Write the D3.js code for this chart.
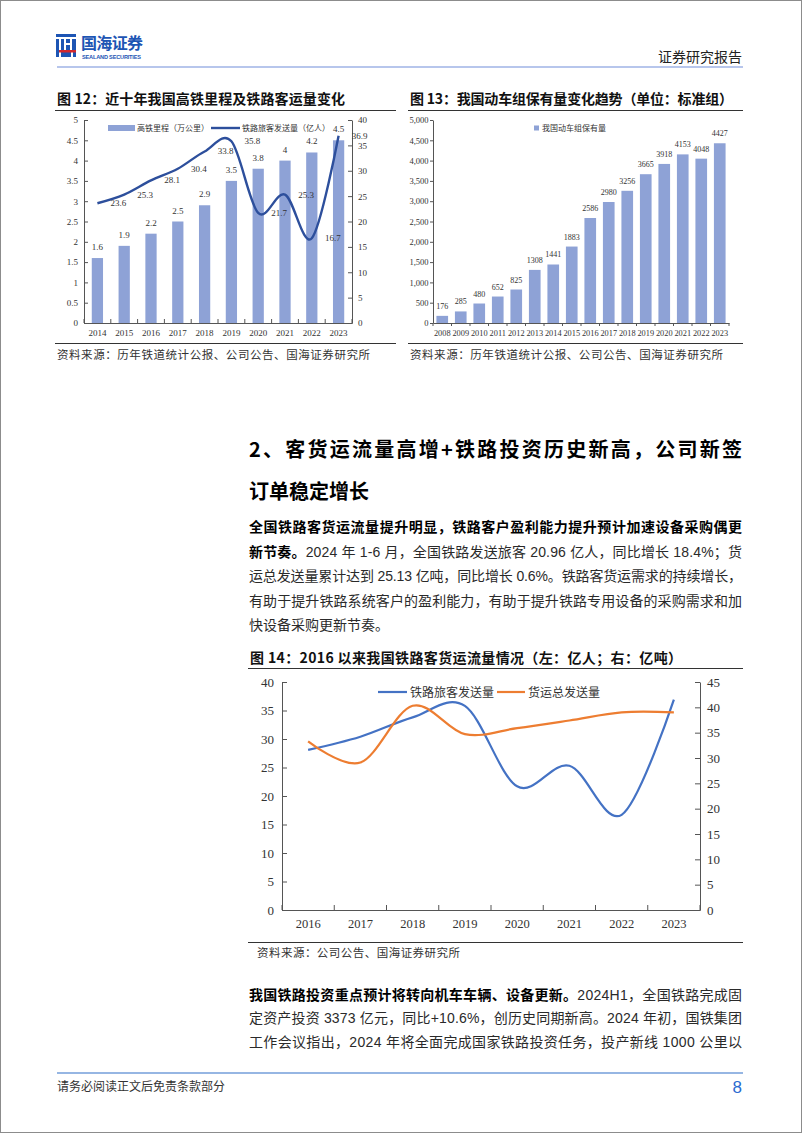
<!DOCTYPE html>
<html><head><meta charset="utf-8">
<script src="https://cdn.jsdelivr.net/npm/d3@7"></script>
<style>body{margin:0;background:#fff;}svg{display:block}</style>
</head><body>
<svg id="page" width="802" height="1133"></svg>
<script>
// ---------- DATA ----------
const years12 = ["2014","2015","2016","2017","2018","2019","2020","2021","2022","2023"];
const hsrMileage = [1.6,1.9,2.2,2.5,2.9,3.5,3.8,4,4.2,4.5];
const passengers12 = [23.6,25.3,28.1,30.4,33.8,35.8,21.7,25.3,16.7,36.9];
const ticks12Left = [0,0.5,1,1.5,2,2.5,3,3.5,4,4.5,5];
const ticks12Right = [0,5,10,15,20,25,30,35,40];

const years13 = ["2008","2009","2010","2011","2012","2013","2014","2015","2016","2017","2018","2019","2020","2021","2022","2023"];
const emuStock = [176,285,480,652,825,1308,1441,1883,2586,2980,3256,3665,3918,4153,4048,4427];
const ticks13 = [0,500,1000,1500,2000,2500,3000,3500,4000,4500,5000];

const years14 = ["2016","2017","2018","2019","2020","2021","2022","2023"];
const passengers14 = [28.1,30.4,33.8,35.8,21.7,25.3,16.7,36.9];
const freight14 = [33.3,29.1,40.3,34.7,35.9,37.4,39.0,39.0];
const ticks14Left = [0,5,10,15,20,25,30,35,40];
const ticks14Right = [0,5,10,15,20,25,30,35,40,45];

// ---------- STYLE ----------
const CJK = "'Noto Sans CJK SC', sans-serif";
const SANS = "'Liberation Sans', 'Noto Sans CJK SC', sans-serif";
const SERIF = "'Liberation Serif', 'Noto Sans CJK SC', serif";
const barColor = "#8ea2d6";
const navy = "#2d4f9c";
const axisColor = "#555";

const svg = d3.select("#page");
svg.append("rect").attr("x",0.5).attr("y",0.5).attr("width",801).attr("height",1132)
  .attr("fill","#fff").attr("stroke","#8c8c8c");

function txt(x,y,s,o={}){
  const t = svg.append("text").attr("x",x).attr("y",y)
    .attr("font-family",o.family||CJK).attr("font-size",o.size||12)
    .attr("font-weight",o.weight||400).attr("fill",o.fill||"#222")
    .attr("text-anchor",o.anchor||"start").text(s);
  if(o.len){t.attr("textLength",o.len).attr("lengthAdjust","spacing");}
  return t;
}
function richLine(x,y,parts,o={}){
  const t = svg.append("text").attr("x",x).attr("y",y)
    .attr("font-family",SANS).attr("font-size",o.size||14).attr("fill","#222");
  parts.forEach(p=>{
    t.append("tspan").attr("font-weight",p.b?700:400).attr("fill",p.b?"#000":"#2a2a2a")
     .attr("font-family",p.b?CJK:SANS).text(p.t);
  });
  if(o.len){t.attr("textLength",o.len).attr("lengthAdjust","spacing");}
  return t;
}
function hline(x0,x1,y,c,w){svg.append("line").attr("x1",x0).attr("x2",x1).attr("y1",y).attr("y2",y).attr("stroke",c).attr("stroke-width",w);}
function styleAxis(g,size,family){
  g.select(".domain").attr("stroke",axisColor);
  g.selectAll(".tick line").attr("stroke",axisColor);
  g.selectAll("text").attr("font-size",size).attr("font-family",family).attr("fill","#333");
}
function boundaryTicks(scale,y,len){
  const [a] = scale.range(); const st = scale.step();
  const n = scale.domain().length;
  svg.append("g").selectAll("line").data(d3.range(n+1)).join("line")
    .attr("x1",i=>a+i*st).attr("x2",i=>a+i*st).attr("y1",y).attr("y2",y+len)
    .attr("stroke",axisColor);
}

// ---------- HEADER ----------
const logo = svg.append("g");
const lb="#1d55b4", lr="#d3282e";
[[56,34,20,3],[56,39,3,18],[61,39,3,11],[66,39,4,4],[66,45,4,5],[72,39,4,11],[73,52,3,5],[61,52,10,5]].forEach(r=>{
  logo.append("rect").attr("x",r[0]).attr("y",r[1]).attr("width",r[2]).attr("height",r[3]).attr("fill",lb);});
logo.append("rect").attr("x",59).attr("y",50).attr("width",17).attr("height",2.5).attr("fill",lr);
txt(81,48.5,"国海证券",{size:16,weight:700,fill:lb,len:62});
txt(82,58.5,"SEALAND SECURITIES",{size:5.6,weight:700,fill:lb,family:SANS,len:59});
txt(742,62,"证券研究报告",{size:14,anchor:"end",fill:"#222"});
hline(57,743,67,"#b7c6ec",2);

// ---------- CHART 12 ----------
txt(57,104,"图 12：近十年我国高铁里程及铁路客运量变化",{size:14,weight:700,fill:"#111",len:288});
hline(55,396,110.5,"#333",1);
const c12={x0:84,x1:352,y0:323,y1:120};
const x12=d3.scaleBand().domain(years12).range([c12.x0,c12.x1]);
const y12=d3.scaleLinear().domain([0,5]).range([c12.y0,c12.y1]);
const y12r=d3.scaleLinear().domain([0,40]).range([c12.y0,c12.y1]);
const bw12=x12.step()*0.42;
const cx12=d=>x12(d)+x12.bandwidth()/2;
svg.append("g").selectAll("rect").data(hsrMileage).join("rect")
  .attr("x",(d,i)=>cx12(years12[i])-bw12/2).attr("y",d=>y12(d))
  .attr("width",bw12).attr("height",d=>c12.y0-y12(d)).attr("fill",barColor);
let g;
g=svg.append("g").attr("transform",`translate(${c12.x0},0)`)
  .call(d3.axisLeft(y12).tickValues(ticks12Left).tickFormat(d=>String(d)).tickSizeInner(-4).tickSizeOuter(0).tickPadding(6));
styleAxis(g,9,SERIF);
g=svg.append("g").attr("transform",`translate(${c12.x1},0)`)
  .call(d3.axisRight(y12r).tickValues(ticks12Right).tickFormat(d=>String(d)).tickSizeInner(-4).tickSizeOuter(0).tickPadding(6));
styleAxis(g,9,SERIF);
g=svg.append("g").attr("transform",`translate(0,${c12.y0})`)
  .call(d3.axisBottom(x12).tickSize(0).tickPadding(7));
styleAxis(g,9,SERIF);
boundaryTicks(x12,c12.y0,-4);
svg.append("path").datum(passengers12)
  .attr("d",d3.line().x((d,i)=>cx12(years12[i])).y(d=>y12r(d)).curve(d3.curveCardinal))
  .attr("fill","none").attr("stroke",navy).attr("stroke-width",2.4);
svg.append("g").selectAll("text").data(hsrMileage).join("text")
  .attr("x",(d,i)=>cx12(years12[i])).attr("y",d=>y12(d)-8).attr("text-anchor","middle")
  .attr("font-family",SERIF).attr("font-size",9).attr("fill","#333").text(d=>d);
svg.append("g").selectAll("text").data(passengers12).join("text")
  .attr("x",(d,i)=>cx12(years12[i])+21).attr("y",d=>y12r(d)+3).attr("text-anchor","middle")
  .attr("font-family",SERIF).attr("font-size",9).attr("fill","#333").text(d=>d);
// legend
svg.append("rect").attr("x",108).attr("y",125).attr("width",27).attr("height",6).attr("fill",barColor);
txt(137,131,"高铁里程（万公里）",{size:8,fill:"#333"});
svg.append("line").attr("x1",211).attr("x2",240).attr("y1",128).attr("y2",128).attr("stroke",navy).attr("stroke-width",2.4);
txt(242,131,"铁路旅客发送量（亿人）",{size:8,fill:"#333"});
hline(55,396,343.5,"#333",1);
txt(57,359,"资料来源：历年铁道统计公报、公司公告、国海证券研究所",{size:11.5,fill:"#333",len:313});

// ---------- CHART 13 ----------
txt(410,104,"图 13：我国动车组保有量变化趋势（单位：标准组）",{size:14,weight:700,fill:"#111",len:323});
hline(408,743,110.5,"#333",1);
const c13={x0:433,x1:729,y0:323,y1:120};
const x13=d3.scaleBand().domain(years13).range([c13.x0,c13.x1]);
const y13=d3.scaleLinear().domain([0,5000]).range([c13.y0,c13.y1]);
const bw13=x13.step()*0.63;
const cx13=d=>x13(d)+x13.bandwidth()/2;
svg.append("g").selectAll("rect").data(emuStock).join("rect")
  .attr("x",(d,i)=>cx13(years13[i])-bw13/2).attr("y",d=>y13(d))
  .attr("width",bw13).attr("height",d=>c13.y0-y13(d)).attr("fill",barColor);
g=svg.append("g").attr("transform",`translate(${c13.x0},0)`)
  .call(d3.axisLeft(y13).tickValues(ticks13).tickFormat(d3.format(",")).tickSizeInner(3).tickSizeOuter(0).tickPadding(1.5));
styleAxis(g,8.5,SERIF);
g=svg.append("g").attr("transform",`translate(0,${c13.y0})`)
  .call(d3.axisBottom(x13).tickSize(0).tickPadding(7));
styleAxis(g,8.3,SERIF);
boundaryTicks(x13,c13.y0,3);
svg.append("g").selectAll("text").data(emuStock).join("text")
  .attr("x",(d,i)=>cx13(years13[i])).attr("y",d=>y13(d)-7).attr("text-anchor","middle")
  .attr("font-family",SERIF).attr("font-size",8).attr("fill","#333").text(d=>d);
svg.append("rect").attr("x",534).attr("y",125.5).attr("width",5).attr("height",5).attr("fill",barColor);
txt(542,131,"我国动车组保有量",{size:8,fill:"#333"});
hline(408,743,343.5,"#333",1);
txt(410,359,"资料来源：历年铁道统计公报、公司公告、国海证券研究所",{size:11.5,fill:"#333",len:313});

// ---------- SECTION TEXT ----------
txt(249,457,"2、客货运流量高增+铁路投资历史新高，公司新签",{size:20,weight:700,fill:"#000",len:493});
txt(249,499,"订单稳定增长",{size:20,weight:700,fill:"#000"});
richLine(249,532,[{b:1,t:"全国铁路客货运流量提升明显，铁路客户盈利能力提升预计加速设备采购偶更"}],{len:493});
richLine(249,556.5,[{b:1,t:"新节奏。"},{t:"2024 年 1-6 月，全国铁路发送旅客 20.96 亿人，同比增长 18.4%；货"}],{len:493});
richLine(249,581,[{t:"运总发送量累计达到 25.13 亿吨，同比增长 0.6%。铁路客货运需求的持续增长，"}],{len:493});
richLine(249,605.5,[{t:"有助于提升铁路系统客户的盈利能力，有助于提升铁路专用设备的采购需求和加"}],{len:493});
richLine(249,630,[{t:"快设备采购更新节奏。"}]);

// ---------- CHART 14 ----------
txt(250,663,"图 14：2016 以来我国铁路客货运流量情况（左：亿人；右：亿吨）",{size:14,weight:700,fill:"#111",len:432});
hline(248,743,668.5,"#333",1);
const c14={x0:282,x1:700,y0:910,y1:682};
const x14=d3.scaleBand().domain(years14).range([c14.x0,c14.x1]);
const y14=d3.scaleLinear().domain([0,40]).range([c14.y0,c14.y1]);
const y14r=d3.scaleLinear().domain([0,45]).range([c14.y0,c14.y1]);
const cx14=d=>x14(d)+x14.bandwidth()/2;
g=svg.append("g").attr("transform",`translate(${c14.x0},0)`)
  .call(d3.axisLeft(y14).tickValues(ticks14Left).tickFormat(d=>String(d)).tickSizeInner(-5).tickSizeOuter(0).tickPadding(8));
styleAxis(g,13,SERIF);
g=svg.append("g").attr("transform",`translate(${c14.x1},0)`)
  .call(d3.axisRight(y14r).tickValues(ticks14Right).tickFormat(d=>String(d)).tickSizeInner(-5).tickSizeOuter(0).tickPadding(7));
styleAxis(g,13,SERIF);
g=svg.append("g").attr("transform",`translate(0,${c14.y0})`)
  .call(d3.axisBottom(x14).tickSize(0).tickPadding(9));
styleAxis(g,12.5,SERIF);
boundaryTicks(x14,c14.y0,-5);
svg.append("path").datum(passengers14)
  .attr("d",d3.line().x((d,i)=>cx14(years14[i])).y(d=>y14(d)).curve(d3.curveCardinal))
  .attr("fill","none").attr("stroke","#4472c4").attr("stroke-width",2.2);
svg.append("path").datum(freight14)
  .attr("d",d3.line().x((d,i)=>cx14(years14[i])).y(d=>y14r(d)).curve(d3.curveCardinal))
  .attr("fill","none").attr("stroke","#ed7d31").attr("stroke-width",2.2);
svg.append("line").attr("x1",378).attr("x2",407).attr("y1",692).attr("y2",692).attr("stroke","#4472c4").attr("stroke-width",2.2);
txt(410,697,"铁路旅客发送量",{size:12,fill:"#333"});
svg.append("line").attr("x1",497).attr("x2",525).attr("y1",692).attr("y2",692).attr("stroke","#ed7d31").attr("stroke-width",2.2);
txt(528,697,"货运总发送量",{size:12,fill:"#333"});
hline(248,743,942.5,"#333",1);
txt(257,957,"资料来源：公司公告、国海证券研究所",{size:11.5,fill:"#333",len:203});

// ---------- LOWER TEXT ----------
richLine(249,999.5,[{b:1,t:"我国铁路投资重点预计将转向机车车辆、设备更新。"},{t:"2024H1，全国铁路完成固"}],{len:493});
richLine(249,1023,[{t:"定资产投资 3373 亿元，同比+10.6%，创历史同期新高。2024 年初，国铁集团"}],{len:493});
richLine(249,1046.5,[{t:"工作会议指出，2024 年将全面完成国家铁路投资任务，投产新线 1000 公里以"}],{len:493});

// ---------- FOOTER ----------
hline(57,743,1073,"#2f6fc8",1.2);
txt(57,1091,"请务必阅读正文后免责条款部分",{size:12,fill:"#333"});
txt(742,1093,"8",{size:17,fill:"#2a6ad0",anchor:"end",family:SANS});
</script>
</body></html>
